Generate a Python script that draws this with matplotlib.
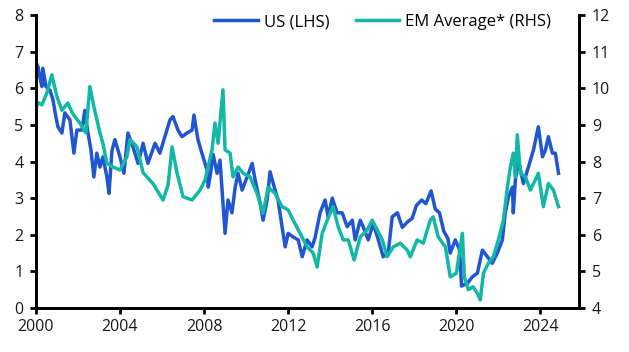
#!/usr/bin/env python3
"""US vs EM average 10-year government bond yields, dual axis line chart."""

import numpy as np
import matplotlib
matplotlib.use('Agg')
import matplotlib.pyplot as plt

# years since 2000 and yields (%)
us_year = [0.00, 0.10, 0.19, 0.29, 0.33, 0.48, 0.67, 0.81, 0.95, 1.05,
           1.24, 1.38, 1.62, 1.81, 1.95, 2.19, 2.33, 2.43, 2.62, 2.76,
           2.90, 3.05, 3.19, 3.38, 3.48, 3.62, 3.76, 4.00, 4.19, 4.38,
           4.62, 4.86, 5.10, 5.33, 5.67, 5.90, 6.14, 6.38, 6.52, 6.76,
           6.95, 7.19, 7.43, 7.52, 7.71, 7.95, 8.14, 8.20, 8.29, 8.43,
           8.62, 8.76, 9.00, 9.14, 9.33, 9.48, 9.62, 9.81, 10.05, 10.29,
           10.43, 10.67, 10.81, 11.00, 11.14, 11.38, 11.52, 11.71, 11.86, 12.00,
           12.24, 12.48, 12.67, 12.90, 13.14, 13.29, 13.52, 13.76, 13.90, 14.10,
           14.33, 14.57, 14.81, 15.05, 15.19, 15.43, 15.57, 15.81, 16.05, 16.29,
           16.52, 16.76, 16.95, 17.20, 17.43, 17.67, 17.90, 18.10, 18.35, 18.55,
           18.80, 19.00, 19.20, 19.40, 19.60, 19.71, 19.95, 20.15, 20.25, 20.52,
           20.76, 21.00, 21.24, 21.48, 21.71, 21.95, 22.19, 22.33, 22.48, 22.67,
           22.71, 22.81, 22.95, 23.19, 23.43, 23.67, 23.90, 24.10, 24.24, 24.38,
           24.57, 24.71, 24.86]
us_val = [6.72, 6.60, 6.30, 6.05, 6.55, 6.05, 5.95, 5.70, 5.23, 4.95,
          4.78, 5.33, 5.14, 4.23, 4.86, 4.86, 5.40, 4.95, 4.32, 3.58,
          4.23, 3.85, 4.13, 3.58, 3.13, 4.30, 4.60, 4.13, 3.68, 4.78,
          4.40, 3.95, 4.50, 3.95, 4.50, 4.23, 4.68, 5.14, 5.23, 4.86,
          4.68, 4.78, 4.86, 5.27, 4.60, 4.13, 3.77, 3.30, 3.60, 4.20,
          3.68, 4.04, 2.04, 2.95, 2.60, 3.30, 3.68, 3.22, 3.58, 3.95,
          3.50, 2.86, 2.40, 2.95, 3.72, 3.22, 2.95, 2.22, 1.67, 2.04,
          1.94, 1.86, 1.40, 1.86, 1.67, 1.94, 2.60, 2.95, 2.49, 3.00,
          2.60, 2.60, 2.22, 2.40, 1.86, 2.40, 2.22, 1.86, 2.31, 1.86,
          1.40, 1.50, 2.49, 2.60, 2.20, 2.35, 2.45, 2.80, 2.95, 2.85,
          3.20, 2.70, 2.60, 2.10, 1.90, 1.50, 1.86, 1.60, 0.60, 0.67,
          0.85, 0.95, 1.58, 1.40, 1.22, 1.50, 1.86, 2.60, 3.04, 3.30,
          2.60, 3.50, 4.04, 3.40, 3.85, 4.32, 4.95, 4.13, 4.32, 4.68,
          4.23, 4.23, 3.68]

em_year = [0.00, 0.14, 0.29, 0.52, 0.76, 1.00, 1.24, 1.52, 1.76, 2.10,
           2.38, 2.57, 2.76, 3.05, 3.19, 3.38, 3.67, 4.00, 4.33, 4.48,
           4.81, 5.10, 5.57, 6.05, 6.29, 6.48, 6.71, 7.00, 7.43, 7.81,
           8.05, 8.38, 8.52, 8.67, 8.90, 9.00, 9.24, 9.38, 9.62, 9.86,
           10.19, 10.52, 10.81, 11.05, 11.38, 11.71, 12.00, 12.24, 12.57, 12.90,
           13.19, 13.38, 13.62, 13.86, 14.14, 14.38, 14.62, 14.86, 15.14, 15.43,
           15.76, 16.00, 16.24, 16.48, 16.71, 17.00, 17.33, 17.67, 17.81, 18.14,
           18.43, 18.76, 18.90, 19.14, 19.48, 19.71, 20.00, 20.29, 20.38, 20.57,
           20.80, 21.00, 21.14, 21.29, 21.52, 21.76, 22.00, 22.24, 22.43, 22.57,
           22.71, 22.81, 22.90, 23.05, 23.29, 23.52, 23.76, 23.90, 24.14, 24.38,
           24.62, 24.86]
em_val = [9.50, 9.60, 9.55, 9.87, 10.37, 9.78, 9.40, 9.60, 9.30, 9.05,
          8.78, 10.05, 9.50, 8.78, 8.50, 7.95, 7.85, 7.77, 8.13, 8.60,
          8.40, 7.70, 7.40, 6.95, 7.36, 8.40, 7.70, 7.04, 6.95, 7.22,
          7.50, 8.32, 9.05, 8.50, 9.96, 8.32, 8.23, 7.58, 7.85, 7.68,
          7.58, 7.13, 6.59, 7.30, 7.13, 6.77, 6.68, 6.40, 6.04, 5.67,
          5.50, 5.12, 6.04, 6.40, 6.77, 6.22, 5.86, 5.86, 5.31, 5.94,
          6.13, 6.40, 6.13, 5.86, 5.40, 5.67, 5.77, 5.58, 5.40, 5.86,
          5.77, 6.40, 6.49, 5.94, 5.67, 4.85, 4.95, 6.04, 4.85, 4.50,
          4.58, 4.40, 4.22, 4.95, 5.22, 5.40, 5.86, 6.40, 7.30, 7.85,
          8.23, 7.58, 8.73, 7.68, 7.58, 7.22, 7.50, 7.68, 6.77, 7.40,
          7.22, 6.77]

x_ticks = [2000, 2004, 2008, 2012, 2016, 2020, 2024]

blue = '#2156D0'
teal = '#12B8A6'

plt.rcParams['font.family'] = ['Open Sans', 'DejaVu Sans']
plt.rcParams['font.size'] = 11

fig = plt.figure(figsize=(6.29, 3.52), dpi=100)
ax = fig.add_axes([0.057, 0.125, 0.864, 0.832])
ax2 = ax.twinx()

l1, = ax.plot(2000 + np.array(us_year), us_val, color=blue, lw=2.5,
              label='US (LHS)', solid_joinstyle='round')
l2, = ax2.plot(2000 + np.array(em_year), em_val, color=teal, lw=2.5,
               label='EM Average* (RHS)', solid_joinstyle='round')

ax.set_xlim(2000, 2025.85)
ax.set_ylim(0, 8)
ax2.set_ylim(4, 12)
ax.set_xticks(x_ticks)
ax.set_xticklabels([str(t) for t in x_ticks])
ax.set_yticks(range(0, 9))
ax2.set_yticks(range(4, 13))

for a in (ax, ax2):
    a.spines['top'].set_visible(False)
    for s in ('left', 'right', 'bottom'):
        a.spines[s].set_linewidth(2.0)
        a.spines[s].set_color('black')
    a.tick_params(axis='both', width=2.0, length=4, color='black',
                  labelsize=11.5, labelcolor='#1a1a1a', pad=5)
ax.tick_params(axis='x', pad=4)

ax.legend(handles=[l1, l2], loc='upper right', bbox_to_anchor=(0.975, 1.055),
          ncol=2, frameon=False, handlelength=2.6, columnspacing=1.6,
          handletextpad=0.35, fontsize=12)

fig.savefig('out.png', dpi=100, facecolor='white')
